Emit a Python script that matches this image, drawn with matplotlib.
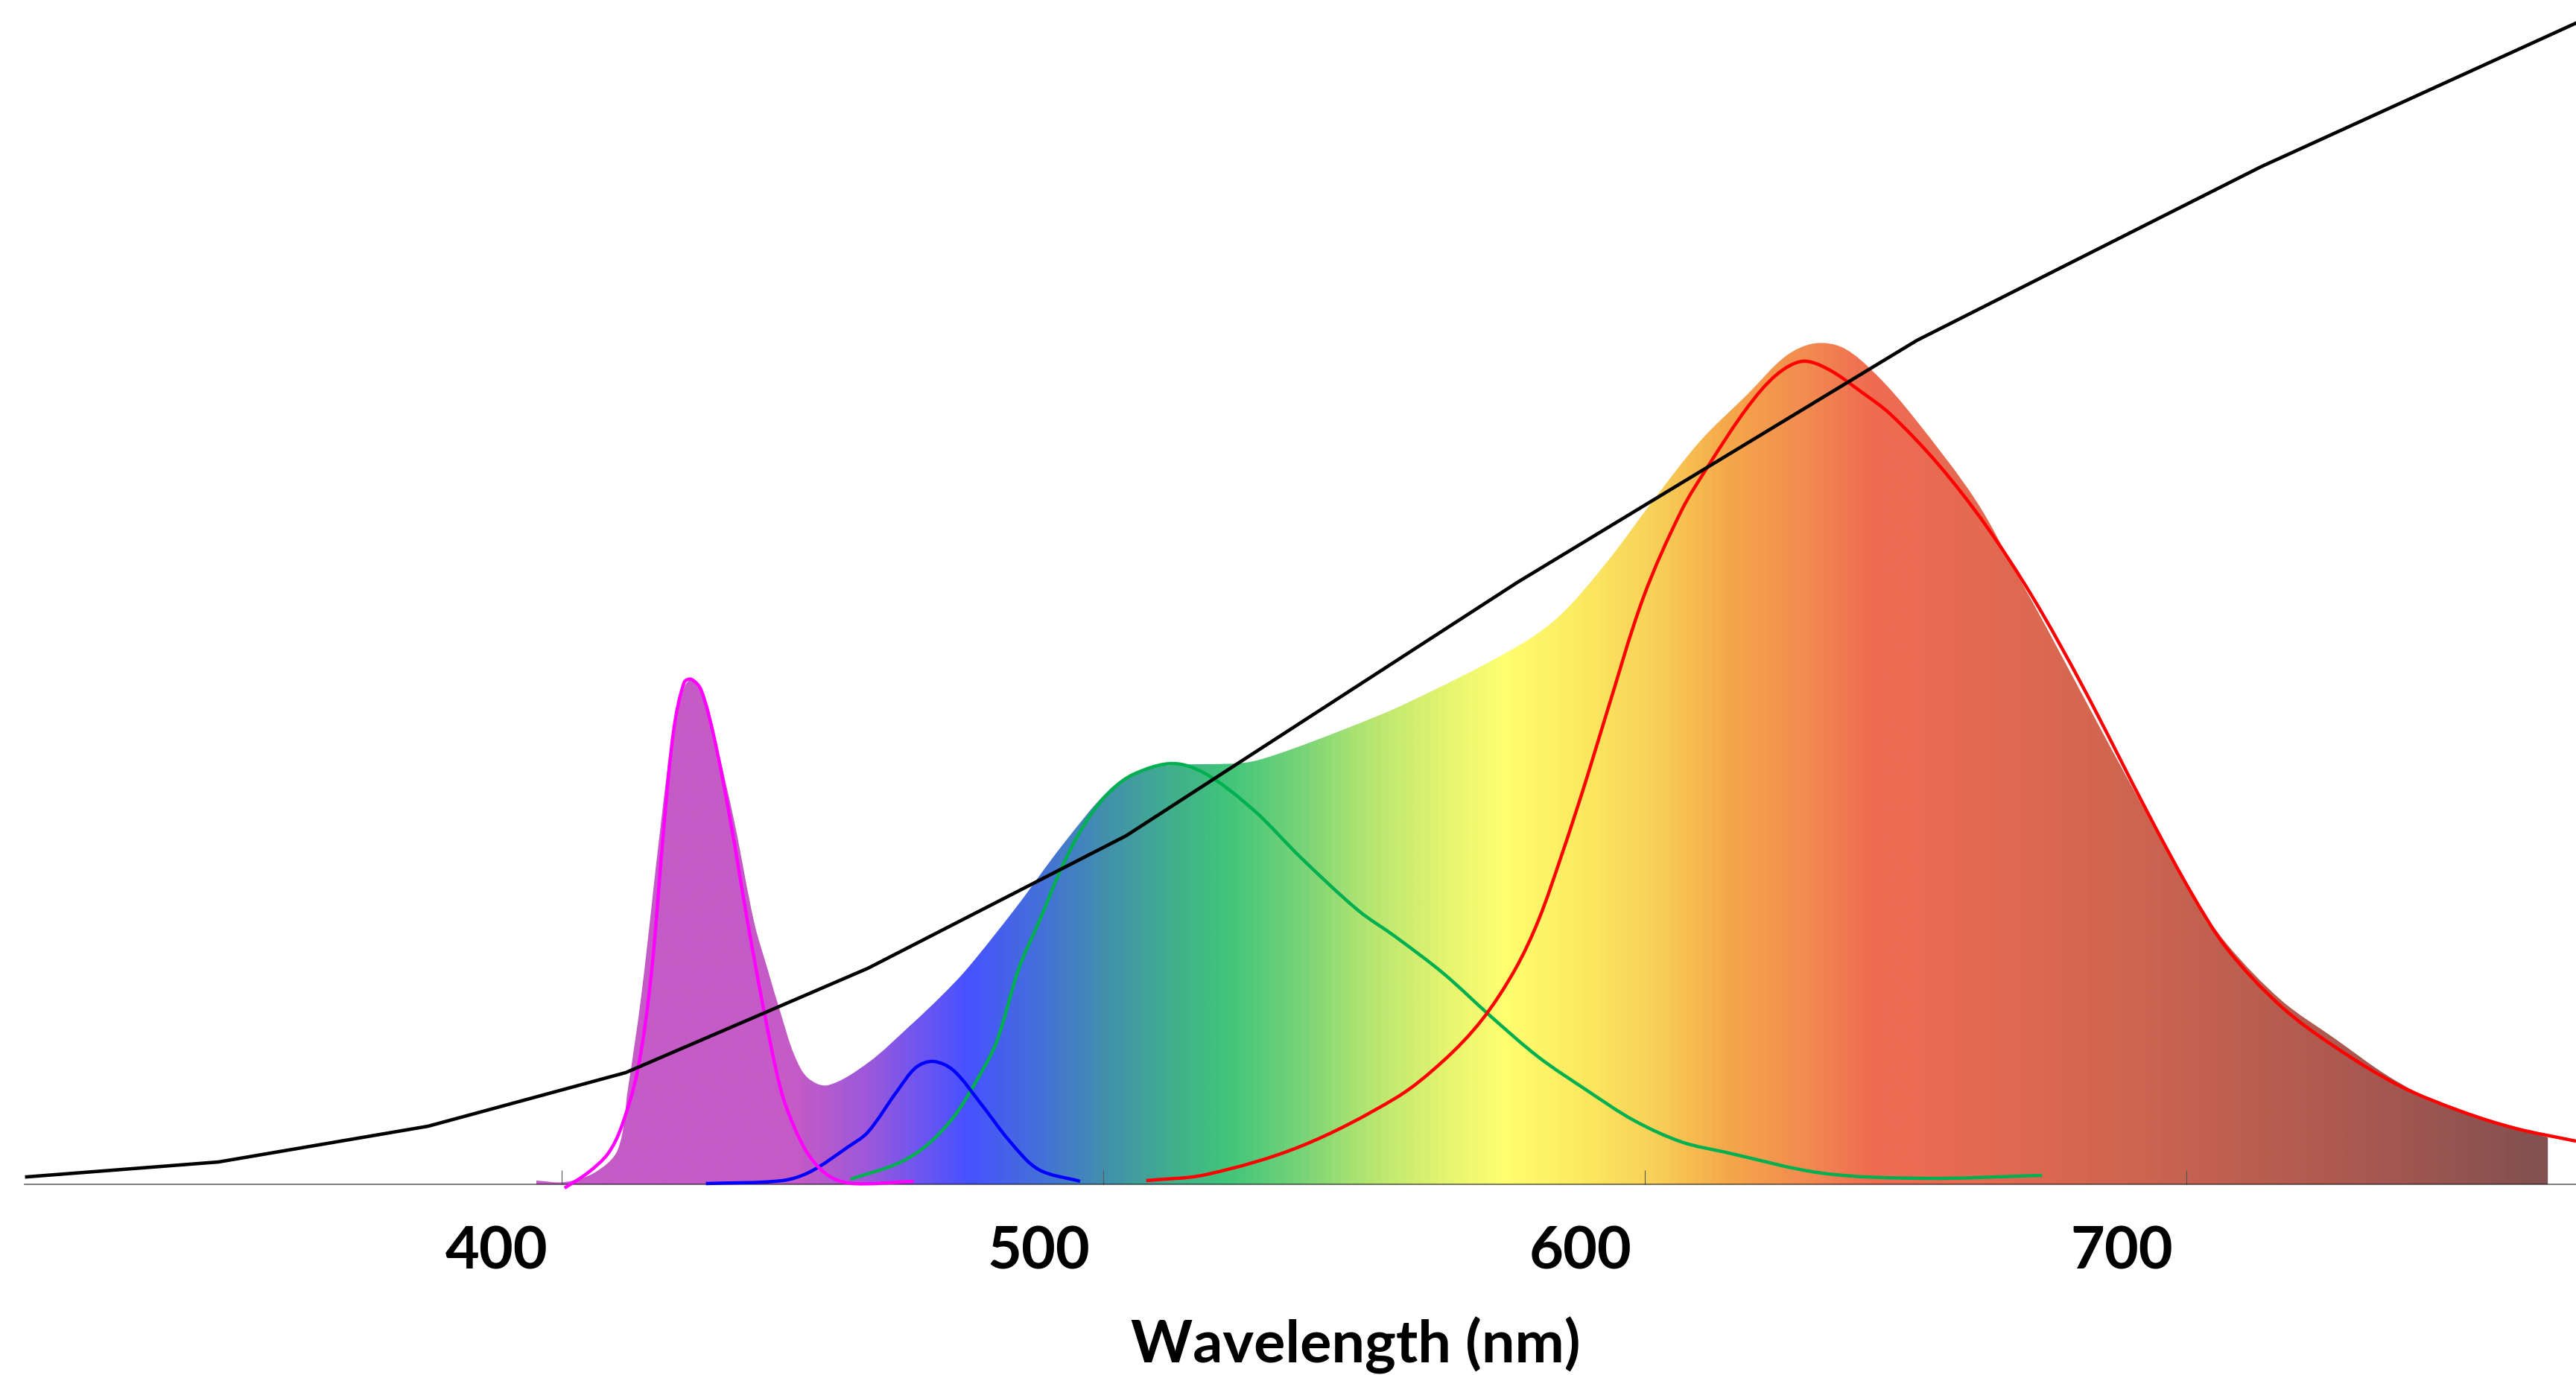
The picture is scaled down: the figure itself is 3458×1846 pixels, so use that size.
import numpy as np
import matplotlib
matplotlib.use("Agg")
import matplotlib.pyplot as plt
from matplotlib.colors import LinearSegmentedColormap
from matplotlib.patches import PathPatch
from matplotlib.path import Path

# emission spectrum (gradient filled area), relative units
spec_wl = [407.3, 412.5, 418.0, 422.3, 424.2, 426.7, 430.3, 432.7, 434.7, 435.9,
           437.7, 440.2, 443.9, 447.5, 449.9, 452.4, 454.9, 457.4, 461.1, 468.5,
           476.3, 482.1, 486.9, 495.9, 504.6, 513.3, 519.5, 524.8, 538.0, 544.1,
           557.2, 568.0, 587.2, 595.9, 604.7, 613.5, 622.2, 630.9, 638.0,
           643.3, 648.6, 654.7, 661.7, 673.1, 681.0, 686.2, 696.3, 706.2, 712.9,
           719.5, 729.5, 739.5, 749.5, 759.4, 769.4, 778.7]
spec_int = [0.5, 0.3, 1.55, 4.6, 12.8, 25.5, 48.5, 61.8, 66.9, 67.7,
            66.35, 60.2, 48.5, 35.2, 29.1, 23.0, 17.4, 14.3, 13.3, 16.3,
            21.3, 25.3, 29.0, 37.2, 45.7, 53.1, 55.7, 56.3, 56.6, 57.75,
            61.3, 64.6, 71.7, 76.1, 83.3, 91.8, 99.8, 106.05, 111.2,
            112.9, 112.3, 108.7, 102.9, 91.8, 81.5, 74.65, 60.9, 47.7, 39.1,
            32.2, 24.7, 19.5, 14.4, 10.6, 8.1, 6.3]

# black reference curve
ref_wl = [313.2, 348.6, 387.3, 423.8, 468.5, 516.2, 588.4, 662.2, 725.7, 783.9]
ref_int = [1.0, 3.0, 7.8, 15.0, 29.0, 46.8, 80.8, 113.3, 136.6, 155.9]

# magenta component
mag_wl = [412.5, 416.8, 420.5, 423.0, 426.0, 428.5, 430.9, 432.7, 434.6, 435.9,
          437.7, 440.2, 443.2, 446.3, 449.4, 452.4, 454.9, 457.9, 461.6, 465.9, 477.0]
mag_int = [-0.5, 1.55, 4.1, 7.7, 15.3, 28.1, 48.5, 61.2, 67.4, 67.8,
           66.4, 59.7, 48.5, 35.2, 23.0, 12.8, 7.7, 3.6, 1.0, 0.1, 0.4]

# blue component
blue_wl = [438.6, 452.7, 457.9, 464.8, 468.5, 473.7, 477.4, 480.6, 484.3, 489.5,
           494.8, 500.0, 507.7]
blue_int = [0.1, 0.5, 1.7, 5.0, 7.0, 12.3, 15.7, 16.5, 15.3, 10.7,
            5.7, 2.0, 0.4]

# green component
green_wl = [465.3, 473.7, 479.0, 484.3, 488.4, 492.2, 496.4, 500.2, 504.6, 508.9,
            513.3, 517.7, 524.8, 530.9, 539.8, 548.4, 559.0, 566.0, 574.8, 583.6,
            592.3, 601.1, 609.9, 618.7, 626.9, 644.7, 663.8, 685.3]
green_int = [0.7, 2.7, 5.0, 9.0, 13.7, 19.0, 29.0, 35.4, 43.0, 48.8,
             52.8, 55.1, 56.5, 55.1, 50.2, 43.9, 36.8, 33.2, 28.3, 22.5,
             17.1, 12.7, 8.6, 5.7, 4.3, 1.5, 0.8, 1.2]

# red component
red_wl = [519.9, 530.9, 548.4, 566.0, 574.8, 581.8, 587.9, 592.3, 596.7, 601.1,
          604.7, 611.7, 618.7, 623.9, 630.9, 636.3, 641.1, 645.9, 652.1, 657.3,
          666.1, 674.8, 683.6, 692.7, 705.1, 712.9, 719.5, 729.5, 739.5, 751.4,
          762.7, 772.8, 783.9]
red_int = [0.5, 1.3, 5.1, 11.6, 16.6, 22.0, 28.7, 35.4, 44.4, 54.2,
           62.75, 78.8, 90.4, 96.7, 104.3, 108.7, 110.5, 109.4, 106.3, 103.4,
           96.7, 88.6, 78.8, 67.0, 49.5, 39.1, 31.6, 23.85, 18.4, 13.2,
           9.8, 7.5, 5.8]

tick_labels = ["400", "500", "600", "700"]
tick_label_pos = [400, 500, 600, 700]
tick_mark_pos = [412, 512, 612, 712]

# colour of the spectrum fill along the wavelength axis
grad_stops = [(400, "#c45bc6"), (455, "#c45bc6"), (468.5, "#9a58dc"), (476.3, "#7456ee"),
              (486.4, "#4752ff"), (500, "#4470d8"), (512, "#4290ac"), (526.4, "#40b488"),
              (534.4, "#40c47a"), (548.4, "#78d478"), (561.6, "#b8e670"), (574.8, "#e4f470"),
              (586, "#ffff70"), (601, "#fce860"), (614, "#f8d058"), (626.5, "#f5aa4a"),
              (642.4, "#f28a50"), (654, "#ef6c52"), (675, "#e46a52"), (705, "#cc6450"),
              (746, "#a85850"), (780, "#805050")]

# rough pixel size of one data unit, used only to measure chord lengths
PX_PER_NM, PX_PER_UNIT = 7.27, 10.0


def smooth_path(xs, ys):
    # chord-length Catmull-Rom bezier through the points ("smoothed line")
    p = np.column_stack([xs, ys]).astype(float)
    n = len(p)
    scale = np.array([PX_PER_NM, PX_PER_UNIT])
    d = np.hypot(*((p[1:] - p[:-1]) * scale).T)
    tang = np.zeros_like(p)
    for i in range(n):
        if i == 0:
            tang[i] = (p[1] - p[0]) / d[0]
        elif i == n - 1:
            tang[i] = (p[-1] - p[-2]) / d[-1]
        else:
            tang[i] = (p[i + 1] - p[i - 1]) / (d[i - 1] + d[i])
    verts = [p[0]]
    codes = [Path.MOVETO]
    for i in range(n - 1):
        verts += [p[i] + tang[i] * d[i] / 3, p[i + 1] - tang[i + 1] * d[i] / 3, p[i + 1]]
        codes += [Path.CURVE4] * 3
    return verts, codes


def smooth_line(ax, xs, ys, color, lw, z=3):
    verts, codes = smooth_path(xs, ys)
    patch = PathPatch(Path(verts, codes), facecolor="none", edgecolor=color,
                      lw=lw, zorder=z, clip_on=False)
    ax.add_patch(patch)


def main():
    fig = plt.figure(figsize=(34.58, 18.46), dpi=100)
    ax = fig.add_axes([33 / 3458, 256 / 1846, 1 - 33 / 3458, 1590 / 1846])
    ax.set_xlim(312.8, 783.9)
    ax.set_ylim(0, 159)

    # gradient-filled spectrum
    g0, g1 = grad_stops[0][0], grad_stops[-1][0]
    cmap = LinearSegmentedColormap.from_list(
        "spec", [((w - g0) / (g1 - g0), c) for w, c in grad_stops])
    grad = np.linspace(0, 1, 1500).reshape(1, -1)
    im = ax.imshow(grad, cmap=cmap, aspect="auto", extent=[g0, g1, 0, 159],
                   interpolation="bilinear", zorder=1)
    verts, codes = smooth_path(spec_wl, spec_int)
    verts += [(spec_wl[-1], 0), (spec_wl[0], 0), (spec_wl[0], spec_int[0])]
    codes += [Path.LINETO, Path.LINETO, Path.CLOSEPOLY]
    outline = PathPatch(Path(verts, codes), facecolor="none", edgecolor="none")
    ax.add_patch(outline)
    im.set_clip_path(outline)

    lw = 3.2
    smooth_line(ax, green_wl, green_int, "#00b050", lw)
    smooth_line(ax, red_wl, red_int, "#ff0000", lw)
    smooth_line(ax, blue_wl, blue_int, "#0000ff", lw)
    smooth_line(ax, mag_wl, mag_int, "#ff00ff", lw)
    ax.plot(ref_wl, ref_int, color="black", lw=3.3, zorder=4, clip_on=False,
            solid_joinstyle="miter")

    for s in ["top", "right", "left"]:
        ax.spines[s].set_visible(False)
    ax.spines["bottom"].set_linewidth(1.2)
    ax.spines["bottom"].set_color("black")
    ax.spines["bottom"].set_alpha(0.6)
    ax.spines["bottom"].set_zorder(2)
    ax.set_yticks([])

    font = ["Lato", "DejaVu Sans"]
    ax.set_xticks(tick_label_pos)
    ax.set_xticklabels(tick_labels, fontsize=57, fontweight="bold", family=font)
    ax.tick_params(axis="x", which="major", length=0, pad=40)
    ax.set_xticks(tick_mark_pos, minor=True)
    ax.tick_params(axis="x", which="minor", direction="in", length=14,
                   width=0.8, color="#555555")

    ax.set_xlabel("Wavelength (nm)", fontsize=57, fontweight="bold", family=font)
    ax.xaxis.set_label_coords((558.6 - 312.8) / (783.9 - 312.8), -240 / 1590)
    ax.xaxis.label.set_va("baseline")

    fig.savefig("out.png", dpi=100)


if __name__ == "__main__":
    main()
